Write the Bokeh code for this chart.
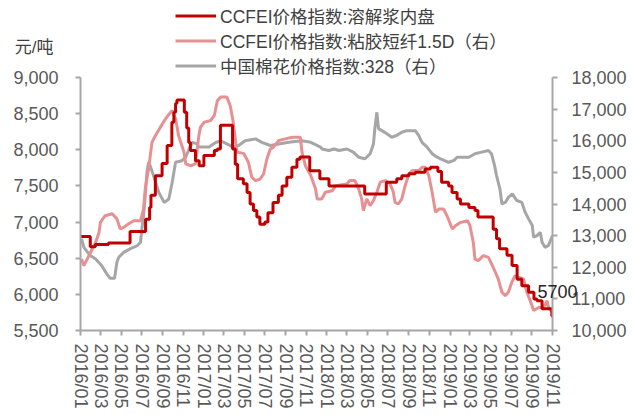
import pandas as pd
from bokeh.plotting import figure
from bokeh.models import (Range1d, LinearAxis, FixedTicker, NumeralTickFormatter,
                          DatetimeTickFormatter, Legend, LegendItem, ColumnDataSource)
from bokeh.embed import file_html
from bokeh.resources import INLINE

# ---------------- data ----------------
x_tick_labels = ["2016/01", "2016/03", "2016/05", "2016/07", "2016/09", "2016/11",
                 "2017/01", "2017/03", "2017/05", "2017/07", "2017/09", "2017/11",
                 "2018/01", "2018/03", "2018/05", "2018/07", "2018/09", "2018/11",
                 "2019/01", "2019/03", "2019/05", "2019/07", "2019/09", "2019/11"]
left_ticks = [5500, 6000, 6500, 7000, 7500, 8000, 8500, 9000]
right_ticks = [10000, 11000, 12000, 13000, 14000, 15000, 16000, 17000, 18000]

# CCFEI价格指数:溶解浆内盘 (left axis)
red_dates = ["2016-01-01", "2016-01-30", "2016-02-14", "2016-03-24", "2016-05-27",
             "2016-07-12", "2016-07-24", "2016-07-28", "2016-08-10", "2016-08-30",
             "2016-09-14", "2016-09-28", "2016-10-04", "2016-10-09", "2016-10-13",
             "2016-11-04", "2016-11-11", "2016-11-17", "2016-11-22", "2016-12-07",
             "2016-12-18", "2017-01-01", "2017-02-01", "2017-02-10", "2017-02-19",
             "2017-03-27", "2017-04-04", "2017-04-11", "2017-04-28", "2017-05-09",
             "2017-05-18", "2017-05-28", "2017-06-07", "2017-06-16", "2017-07-01",
             "2017-07-10", "2017-07-25", "2017-08-10", "2017-08-21", "2017-09-04",
             "2017-09-19", "2017-10-04", "2017-10-13", "2017-11-11", "2017-12-11",
             "2018-01-07", "2018-04-23", "2018-06-26", "2018-07-27", "2018-08-11",
             "2018-09-01", "2018-09-20", "2018-10-19", "2018-11-04", "2018-11-26",
             "2018-12-07", "2018-12-28", "2019-01-07", "2019-01-22", "2019-02-01",
             "2019-02-26", "2019-03-16", "2019-03-25", "2019-05-09", "2019-05-19",
             "2019-05-28", "2019-06-19", "2019-07-04", "2019-07-19", "2019-08-02",
             "2019-08-22", "2019-09-07", "2019-09-16", "2019-10-01", "2019-10-30",
             "2019-11-01"]
red_values = [6800, 6660, 6690, 6710, 6870,
              7040, 7200, 7370, 7640, 7810,
              8060, 8380, 8520, 8640, 8690,
              8520, 8300, 8100, 7990, 7850,
              7780, 7920, 7990, 8010, 8340,
              8010, 7800, 7600, 7530, 7410,
              7250, 7160, 7070, 6970, 7000,
              7130, 7270, 7370, 7500, 7620,
              7760, 7870, 7900, 7710, 7600,
              7500, 7390, 7550, 7600, 7640,
              7670, 7690, 7735, 7760, 7700,
              7550, 7500, 7410, 7320, 7250,
              7200, 7160, 7070, 6900, 6770,
              6630, 6540, 6400, 6210, 6120,
              6030, 5935, 5910, 5800, 5700,
              5700]

# CCFEI价格指数:粘胶短纤1.5D (right axis)
pink_dates = ["2016-01-04", "2016-01-11", "2016-01-30", "2016-02-15", "2016-02-25",
              "2016-02-29", "2016-03-14", "2016-04-04", "2016-04-18", "2016-04-28",
              "2016-05-08", "2016-05-22", "2016-06-07", "2016-06-27", "2016-07-06",
              "2016-07-11", "2016-07-21", "2016-07-31", "2016-08-10", "2016-08-25",
              "2016-09-09", "2016-09-24", "2016-09-29", "2016-10-09", "2016-10-18",
              "2016-11-03", "2016-11-08", "2016-11-23", "2016-12-07", "2016-12-17",
              "2016-12-22", "2017-01-02", "2017-01-21", "2017-02-01", "2017-02-10",
              "2017-02-20", "2017-03-10", "2017-03-20", "2017-03-29", "2017-04-04",
              "2017-04-09", "2017-04-29", "2017-05-13", "2017-05-23", "2017-06-03",
              "2017-06-17", "2017-06-27", "2017-07-07", "2017-07-17", "2017-07-26",
              "2017-08-11", "2017-08-30", "2017-09-20", "2017-10-14", "2017-10-19",
              "2017-10-29", "2017-11-14", "2017-11-28", "2017-12-03", "2017-12-17",
              "2017-12-27", "2018-01-17", "2018-01-27", "2018-03-01", "2018-03-10",
              "2018-03-25", "2018-04-05", "2018-04-14", "2018-04-19", "2018-04-29",
              "2018-05-09", "2018-05-19", "2018-05-29", "2018-06-08", "2018-06-23",
              "2018-07-07", "2018-07-17", "2018-07-22", "2018-08-01", "2018-08-11",
              "2018-08-21", "2018-09-01", "2018-09-11", "2018-09-30", "2018-10-10",
              "2018-10-20", "2018-10-30", "2018-11-09", "2018-11-19", "2018-11-29",
              "2018-12-13", "2018-12-23", "2019-01-08", "2019-01-18", "2019-02-02",
              "2019-02-22", "2019-03-01", "2019-03-11", "2019-03-16", "2019-03-26",
              "2019-04-10", "2019-04-25", "2019-05-09", "2019-05-24", "2019-06-04",
              "2019-06-14", "2019-06-23", "2019-07-03", "2019-07-13", "2019-08-07",
              "2019-08-17", "2019-08-27", "2019-09-06", "2019-09-21", "2019-10-06",
              "2019-10-16", "2019-10-20", "2019-11-01"]
pink_values = [12260, 12050, 12450, 12790, 13100,
               13420, 13630, 13690, 13530, 13210,
               13260, 13370, 13470, 13470, 13840,
               14480, 15110, 15950, 16160, 16430,
               16690, 16900, 16950, 16700, 16160,
               15640, 15270, 15210, 15270, 16160,
               16430, 16590, 16640, 16800, 17270,
               17380, 17380, 17110, 16590, 16060,
               15640, 15600, 15320, 14850, 14740,
               14790, 14950, 15430, 15740, 15790,
               16010, 16060, 16110, 16110, 15640,
               15210, 14900, 14480, 14160, 14160,
               14370, 14420, 14580, 14630, 14740,
               14740, 14480, 14160, 13790, 14160,
               13950, 14110, 14370, 14690, 14740,
               14640, 14370, 14050, 14000, 14160,
               14580, 14950, 15060, 15060, 15160,
               15160, 14900, 14370, 13740, 13840,
               13840, 13630, 13210, 13320, 13420,
               13470, 13320, 12790, 12260, 12210,
               12370, 12310, 12000, 11630, 11210,
               11100, 11210, 11520, 11730, 11630,
               11210, 10940, 10630, 10730, 10730,
               10940, 10730, 10570]

# 中国棉花价格指数:328 (right axis)
gray_dates = ["2016-01-04", "2016-01-11", "2016-01-30", "2016-02-15", "2016-03-04",
              "2016-03-19", "2016-03-29", "2016-04-11", "2016-04-18", "2016-04-23",
              "2016-05-08", "2016-05-27", "2016-06-17", "2016-06-27", "2016-07-01",
              "2016-07-06", "2016-07-11", "2016-07-16", "2016-07-21", "2016-07-26",
              "2016-08-06", "2016-08-20", "2016-09-05", "2016-09-19", "2016-09-29",
              "2016-10-09", "2016-10-28", "2016-11-08", "2016-11-18", "2016-11-28",
              "2016-12-12", "2016-12-17", "2017-01-16", "2017-02-06", "2017-02-20",
              "2017-03-10", "2017-03-29", "2017-04-14", "2017-05-03", "2017-06-03",
              "2017-06-22", "2017-07-17", "2017-08-11", "2017-09-10", "2017-10-19",
              "2017-11-14", "2017-12-13", "2017-12-17", "2018-01-07", "2018-01-22",
              "2018-02-06", "2018-03-01", "2018-03-20", "2018-04-05", "2018-04-24",
              "2018-05-09", "2018-05-19", "2018-05-23", "2018-05-29", "2018-06-03",
              "2018-06-13", "2018-06-28", "2018-07-12", "2018-07-27", "2018-08-11",
              "2018-08-26", "2018-09-20", "2018-09-30", "2018-10-10", "2018-10-25",
              "2018-11-09", "2018-11-24", "2018-12-04", "2018-12-28", "2019-01-13",
              "2019-01-22", "2019-02-26", "2019-03-16", "2019-04-05", "2019-04-25",
              "2019-05-04", "2019-05-13", "2019-05-19", "2019-05-29", "2019-06-04",
              "2019-06-14", "2019-06-23", "2019-07-05", "2019-07-18", "2019-08-02",
              "2019-08-12", "2019-08-22", "2019-09-02", "2019-09-06", "2019-09-16",
              "2019-09-26", "2019-10-01", "2019-10-10", "2019-10-20", "2019-11-01"]
gray_values = [12900, 12630, 12370, 12260, 12050,
               11790, 11650, 11650, 12160, 12310,
               12470, 12580, 12680, 12790, 13210,
               13630, 14270, 15000, 15320, 15200,
               14850, 14370, 14050, 14160, 14690,
               15320, 15370, 15480, 15740, 15950,
               15900, 15800, 15800, 15950, 16000,
               15900, 15800, 15850, 16000, 16060,
               15950, 15850, 15900, 15950, 16000,
               15950, 15800, 15740, 15690, 15740,
               15690, 15740, 15640, 15480, 15430,
               15590, 15900, 16380, 16900, 16380,
               16320, 16220, 16110, 16170, 16270,
               16320, 16320, 16170, 15950, 15800,
               15590, 15480, 15430, 15320, 15380,
               15480, 15480, 15590, 15640, 15690,
               15590, 15220, 14900, 14480, 14000,
               14050, 14210, 14320, 14110, 14050,
               13740, 13530, 13320, 12950, 13000,
               13100, 12790, 12630, 12690, 13000]

series_names = ["CCFEI价格指数:溶解浆内盘",
                "CCFEI价格指数:粘胶短纤1.5D（右）",
                "中国棉花价格指数:328（右）"]
left_unit = "元/吨"

# ---------------- layout constants (pixels) ----------------
W, H = 630, 413
FRAME_L, FRAME_R = 80, 552          # frame left / right edge
AXIS_TOP, AXIS_BOTTOM = 77, 330     # where the top / bottom ticks sit
UNIT_Y = 47                         # centre of the unit text
LAST_LABEL_UP = 25                  # data label lifted above the last point

RED = "#C00000"
PINK = "#E88F92"
GRAY = "#A6A6A6"
AXIS = "#A6A6A6"
TXT = "#595959"
LAT = "Liberation Sans"
CJK = "Liberation Sans, Noto Sans CJK SC"

# The frame reaches the top of the figure so that the legend sits inside it;
# the visible axis lines are limited with bounds.
left_per_px = (left_ticks[-1] - left_ticks[0]) / (AXIS_BOTTOM - AXIS_TOP)
right_per_px = (right_ticks[-1] - right_ticks[0]) / (AXIS_BOTTOM - AXIS_TOP)
left_top = left_ticks[-1] + AXIS_TOP * left_per_px
right_top = right_ticks[-1] + AXIS_TOP * right_per_px

x_start = pd.Timestamp(x_tick_labels[0].replace("/", "-") + "-01")
x_end = pd.Timestamp(x_tick_labels[-1].replace("/", "-") + "-01")

p = figure(width=W, height=H, x_axis_type="datetime", title=None,
           output_backend="svg", toolbar_location=None,
           x_range=Range1d(x_start.to_pydatetime(), x_end.to_pydatetime()),
           y_range=Range1d(left_ticks[0], left_top),
           min_border_left=FRAME_L, min_border_right=W - FRAME_R,
           min_border_top=0, min_border_bottom=H - AXIS_BOTTOM)
p.extra_y_ranges = {"right": Range1d(right_ticks[0], right_top)}
p.outline_line_color = None
p.xgrid.visible = False
p.ygrid.visible = False

red_src = ColumnDataSource(dict(x=pd.to_datetime(red_dates), y=red_values))
pink_src = ColumnDataSource(dict(x=pd.to_datetime(pink_dates), y=pink_values))
gray_src = ColumnDataSource(dict(x=pd.to_datetime(gray_dates), y=gray_values))

r_gray = p.line("x", "y", source=gray_src, line_color=GRAY, line_width=3,
                y_range_name="right")
r_pink = p.line("x", "y", source=pink_src, line_color=PINK, line_width=3,
                y_range_name="right")
r_red = p.step("x", "y", source=red_src, mode="after", line_color=RED, line_width=3)


def style_axis(ax):
    ax.axis_line_color = AXIS
    ax.axis_line_width = 2
    ax.major_tick_line_color = AXIS
    ax.major_tick_line_width = 2
    ax.major_tick_out = 5
    ax.major_tick_in = 0
    ax.minor_tick_line_color = None
    ax.major_label_text_color = TXT
    ax.major_label_text_font = LAT
    ax.major_label_text_font_size = "18px"


def text_only_axis(ax, standoff, color, font, size):
    ax.axis_line_color = None
    ax.major_tick_line_color = None
    ax.minor_tick_line_color = None
    ax.major_tick_out = 0
    ax.major_tick_in = 0
    ax.major_label_standoff = standoff
    ax.major_label_text_color = color
    ax.major_label_text_font = font
    ax.major_label_text_font_size = size


# left axis
ly = p.yaxis[0]
style_axis(ly)
ly.bounds = (left_ticks[0], left_ticks[-1])
ly.ticker = FixedTicker(ticks=left_ticks)
ly.formatter = NumeralTickFormatter(format="0,0")
ly.major_label_standoff = 17

# unit text above the left axis (outer, label-only axis)
unit_val = round(left_ticks[-1] + (AXIS_TOP - UNIT_Y) * left_per_px)
unit_axis = LinearAxis(ticker=FixedTicker(ticks=[unit_val]),
                       major_label_overrides={unit_val: left_unit})
text_only_axis(unit_axis, -43, "#404040", CJK, "17px")
p.add_layout(unit_axis, "left")

# right axis
ry = LinearAxis(y_range_name="right")
style_axis(ry)
ry.bounds = (right_ticks[0], right_ticks[-1])
ry.ticker = FixedTicker(ticks=right_ticks)
ry.formatter = NumeralTickFormatter(format="0,0")
ry.major_label_standoff = 14
p.add_layout(ry, "right")

# data label of the last red value (outer, label-only axis on the left scale)
last_val = round(red_values[-1] + LAST_LABEL_UP * left_per_px)
last_axis = LinearAxis(ticker=FixedTicker(ticks=[last_val]),
                       major_label_overrides={last_val: str(red_values[-1])})
text_only_axis(last_axis, -92, "#262626", LAT, "18px")
p.add_layout(last_axis, "right")

# bottom axis
bx = p.xaxis[0]
style_axis(bx)
tick_ms = [pd.Timestamp(t.replace("/", "-") + "-01").value / 1e6 for t in x_tick_labels]
bx.ticker = FixedTicker(ticks=tick_ms)
bx.formatter = DatetimeTickFormatter(days="%Y/%m", months="%Y/%m", years="%Y/%m")
bx.major_label_orientation = "vertical"
bx.major_label_standoff = 8

# legend (inside the frame, above the plotted data)
legend = Legend(items=[LegendItem(label=series_names[0], renderers=[r_red]),
                       LegendItem(label=series_names[1], renderers=[r_pink]),
                       LegendItem(label=series_names[2], renderers=[r_gray])],
                location=(175 - FRAME_L, AXIS_BOTTOM - AXIS_TOP - 1),
                orientation="vertical",
                glyph_width=41, glyph_height=23, label_height=23,
                spacing=0, padding=0, margin=0, label_standoff=4,
                label_text_font=CJK, label_text_font_size="17.5px",
                label_text_color="#404040",
                border_line_color=None, background_fill_alpha=0)
p.add_layout(legend, "center")

open("out.html", "w").write(file_html(p, INLINE))
